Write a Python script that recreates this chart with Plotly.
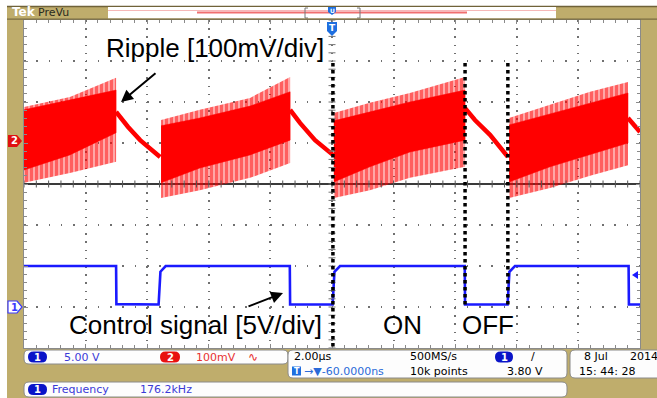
import plotly.graph_objects as go

W, H = 657, 398

# Scope settings
T_DIV = 2.0          # us / div, 10 divisions
CH1_VDIV = 5.0       # V / div (control signal)
CH2_VDIV = 100.0     # mV / div (ripple)
CH1_POS = -3.0       # channel ground markers, in divisions
CH2_POS = 1.05

# CH1: control signal (V) vs time (us)
ctrl_t = [-10.0, -7.01, -7.00, -5.63, -5.57, -5.40, -1.37, -1.36, 0.02, 0.08, 0.26,
          4.31, 4.32, 5.70, 5.76, 5.94, 9.63, 9.64, 10.0]
ctrl_v = [5.0, 5.0, 0.35, 0.3, 4.3, 5.0, 5.0, 0.3, 0.3, 4.3, 5.0,
          5.0, 0.3, 0.3, 4.3, 5.0, 5.0, 0.3, 0.3]

# CH2: ripple during each switching burst (envelope knots, mV)
burst_t = [[-10.0, -8.51, -7.01],
           [-5.55, -4.29, -2.66, -1.36],
           [0.06, 1.23, 2.53, 4.32],
           [5.75, 7.08, 8.38, 9.61]]
burst_peak = [[83, 107, 154], [51, 76, 105, 156], [68, 93, 117, 156], [56, 88, 120, 144]]
burst_core_hi = [[76, 100, 124], [37, 56, 85, 120], [49, 71, 95, 124], [39, 66, 93, 117]]
burst_core_lo = [[-71, -34, 20], [-102, -66, -34, 2], [-100, -63, -27, 2], [-100, -63, -34, -5]]
burst_trough = [[-102, -78, -51], [-139, -120, -90, -54], [-139, -120, -90, -63], [-139, -115, -85, -59]]

# CH2: ripple while the converter is off (discharge ramps, mV)
ramp_t = [[-7.01, -6.62, -6.23, -5.58], [-1.36, -1.04, -0.55, 0.03],
          [4.32, 4.64, 5.13, 5.71], [9.61, 10.0]]
ramp_mv = [[71, 34, 2, -39], [76, 44, 2, -34], [80, 51, 15, -39], [56, 22]]

RED = "#ff0000"
BLUE = "#1a1aff"
TAN = "#bfad6c"

# plot area in pixels
PX0, PX1, PY0, PY1 = 24, 640, 20, 348


def fx(x):
    return x / W


def fy(y):
    return 1 - y / H


def ch2(vals):
    return [v / CH2_VDIV + CH2_POS for v in vals]


def ch1(vals):
    return [v / CH1_VDIV + CH1_POS for v in vals]


def rrect(x0, y0, x1, y1, r):
    p = [
        f"M{fx(x0 + r)},{fy(y0)}", f"L{fx(x1 - r)},{fy(y0)}",
        f"Q{fx(x1)},{fy(y0)} {fx(x1)},{fy(y0 + r)}", f"L{fx(x1)},{fy(y1 - r)}",
        f"Q{fx(x1)},{fy(y1)} {fx(x1 - r)},{fy(y1)}", f"L{fx(x0 + r)},{fy(y1)}",
        f"Q{fx(x0)},{fy(y1)} {fx(x0)},{fy(y1 - r)}", f"L{fx(x0)},{fy(y0 + r)}",
        f"Q{fx(x0)},{fy(y0)} {fx(x0 + r)},{fy(y0)}", "Z",
    ]
    return " ".join(p)


def poly(pts):
    return "M" + " L".join(f"{fx(a)},{fy(b)}" for a, b in pts) + " Z"


fig = go.Figure()

# switching bursts: spiky outer envelope + dense core
for t, pk, chi, clo, tr in zip(burst_t, burst_peak, burst_core_hi, burst_core_lo, burst_trough):
    fig.add_trace(go.Scatter(
        x=t + t[::-1], y=ch2(pk) + ch2(tr)[::-1], mode="lines", fill="toself",
        line=dict(width=0, color=RED), fillcolor="rgba(255,0,0,0.25)",
        fillpattern=dict(shape="|", fgcolor=RED, fillmode="overlay",
                         size=5, solidity=0.7),
        hoverinfo="skip", showlegend=False))
    fig.add_trace(go.Scatter(
        x=t + t[::-1], y=ch2(chi) + ch2(clo)[::-1], mode="lines", fill="toself",
        line=dict(width=0.5, color=RED), fillcolor=RED,
        hoverinfo="skip", showlegend=False))

for t, v in zip(ramp_t, ramp_mv):
    fig.add_trace(go.Scatter(x=t, y=ch2(v), mode="lines",
                             line=dict(color=RED, width=4.5),
                             hoverinfo="skip", showlegend=False))

fig.add_trace(go.Scatter(x=ctrl_t, y=ch1(ctrl_v), mode="lines",
                         line=dict(color=BLUE, width=2.6),
                         hoverinfo="skip", showlegend=False))

# graticule ticks on the centre lines
minor_x = [-10 + 0.4 * i for i in range(51)]
minor_y = [-4 + 0.2 * i for i in range(41)]
fig.add_trace(go.Scatter(x=minor_x, y=[0] * len(minor_x), mode="markers",
                         marker=dict(symbol="line-ns", size=5, line=dict(width=1, color="#555")),
                         hoverinfo="skip", showlegend=False))
fig.add_trace(go.Scatter(x=[0] * len(minor_y), y=minor_y, mode="markers",
                         marker=dict(symbol="line-ew", size=5, line=dict(width=1, color="#777")),
                         hoverinfo="skip", showlegend=False))

shapes = []
# ON / OFF boundaries
for x0, y0, y1 in [(0.03, 2.95, -3.98), (4.32, 2.95, -2.95), (5.71, 2.95, -2.95)]:
    shapes.append(dict(type="line", xref="x", yref="y", x0=x0, x1=x0, y0=y0, y1=y1,
                       line=dict(color="black", width=3.5, dash="dot")))

# instrument frame
shapes += [
    dict(type="rect", xref="paper", yref="paper", x0=0, x1=1, y0=fy(6), y1=1,
         fillcolor="white", line=dict(width=0), layer="below"),
    dict(type="rect", xref="paper", yref="paper", x0=0, x1=fx(7), y0=0, y1=1,
         fillcolor="white", line=dict(width=0), layer="below"),
    dict(type="line", xref="paper", yref="paper", x0=fx(7), x1=1, y0=fy(6.5), y1=fy(6.5),
         line=dict(color="#6f6238", width=1.5)),
    dict(type="rect", xref="paper", yref="paper", x0=fx(108), x1=fx(556), y0=fy(18.5), y1=fy(7),
         fillcolor="white", line=dict(width=0)),
    dict(type="line", xref="paper", yref="paper", x0=fx(197), x1=fx(467), y0=fy(12.5), y1=fy(12.5),
         line=dict(color="#f07070", width=2)),
    dict(type="line", xref="paper", yref="paper", x0=fx(108), x1=fx(556), y0=fy(10.5), y1=fy(10.5),
         line=dict(color="#f6b8b8", width=1)),
    dict(type="path", xref="paper", yref="paper",
         path=f"M{fx(308)},{fy(8)} L{fx(305)},{fy(8)} L{fx(305)},{fy(18)} L{fx(308)},{fy(18)} "
              f"M{fx(357)},{fy(8)} L{fx(360)},{fy(8)} L{fx(360)},{fy(18)} L{fx(357)},{fy(18)}",
         line=dict(color="#777", width=1)),
    dict(type="line", xref="paper", yref="paper", x0=fx(7), x1=1, y0=fy(19.2), y1=fy(19.2),
         line=dict(color="#7a6c40", width=1.2)),
    # trigger position markers
    dict(type="path", xref="paper", yref="paper",
         path=poly([(328, 7), (336, 7), (336, 12), (332, 15), (328, 12)]),
         fillcolor="#1e6fe0", line=dict(width=0)),
    dict(type="path", xref="paper", yref="paper",
         path=poly([(327, 22), (337, 22), (337, 31), (332, 36), (327, 31)]),
         fillcolor="#1e6fe0", line=dict(width=0)),
    # channel ground markers
    dict(type="path", xref="paper", yref="paper",
         path=poly([(8, 135), (17, 135), (22, 141), (17, 147), (8, 147)]),
         fillcolor="#e01010", line=dict(width=0)),
    dict(type="path", xref="paper", yref="paper",
         path=poly([(8, 301), (17, 301), (22, 307), (17, 313), (8, 313)]),
         fillcolor="white", line=dict(color="#3a3aff", width=1.2)),
    # trigger level marker
    dict(type="path", xref="paper", yref="paper",
         path=poly([(632, 275), (638, 271), (638, 279)]),
         fillcolor=BLUE, line=dict(width=0)),
    # readout boxes
    dict(type="path", xref="paper", yref="paper", path=rrect(24, 350, 288, 364, 5),
         fillcolor="#fdfdfd", line=dict(color="#8a8a8a", width=1)),
    dict(type="path", xref="paper", yref="paper", path=rrect(288, 350, 567, 378, 5),
         fillcolor="#fdfdfd", line=dict(color="#8a8a8a", width=1)),
    dict(type="path", xref="paper", yref="paper", path=rrect(570, 350, 665, 378, 5),
         fillcolor="#fdfdfd", line=dict(color="#8a8a8a", width=1)),
    dict(type="path", xref="paper", yref="paper", path=rrect(24, 382, 567, 397, 5),
         fillcolor="#fdfdfd", line=dict(color="#8a8a8a", width=1)),
    # channel pills in readouts
    dict(type="path", xref="paper", yref="paper", path=rrect(28, 351.5, 47, 362.5, 5.5),
         fillcolor="#0a14c8", line=dict(width=0)),
    dict(type="path", xref="paper", yref="paper", path=rrect(160, 351.5, 180, 362.5, 5.5),
         fillcolor="#e81010", line=dict(width=0)),
    dict(type="path", xref="paper", yref="paper", path=rrect(495, 351.5, 513, 362.5, 5.5),
         fillcolor="#0a14c8", line=dict(width=0)),
    dict(type="path", xref="paper", yref="paper", path=rrect(28, 384, 47, 395, 5.5),
         fillcolor="#0a14c8", line=dict(width=0)),
    dict(type="rect", xref="paper", yref="paper", x0=fx(292), x1=fx(301), y0=fy(375.5), y1=fy(366.5),
         fillcolor="#1e6fe0", line=dict(width=0)),
]

UI = "DejaVu Sans"
ann = []


def txt(s, x, y, size=11, color="black", anchor="left", family=UI, bold=False):
    ann.append(dict(text=f"<b>{s}</b>" if bold else s, x=fx(x), y=fy(y),
                    xref="paper", yref="paper", xanchor=anchor, yanchor="middle",
                    showarrow=False, font=dict(family=family, size=size, color=color)))


AF = "Liberation Sans, Arial, sans-serif"
txt("Ripple [100mV/div]", 104, 48, size=26, family=AF)
txt("Control signal [5V/div]", 67, 325, size=26, family=AF)
txt("ON", 381, 325, size=26, family=AF)
txt("OFF", 460, 325, size=26, family=AF)

txt("Tek", 10, 12.5, size=12, color="white", bold=True)
txt("PreVu", 36, 12.5, size=11, color="#2a2a20")
txt("U", 332, 10, size=6, color="white", anchor="center", bold=True)
txt("T", 332, 28, size=9, color="white", anchor="center", bold=True)
txt("2", 14, 141, size=10, color="white", anchor="center", bold=True)
txt("1", 14, 307, size=10, color="#3a3aff", anchor="center", bold=True)

txt("1", 37.5, 357, size=10, color="white", anchor="center", bold=True)
txt("5.00 V", 62, 357, size=11, color="#3a3ad8")
txt("2", 170, 357, size=10, color="white", anchor="center", bold=True)
txt("100mV", 194, 357, size=11, color="#e83030")
txt("∿", 246, 357, size=12, color="#e83030")
txt("2.00µs", 292, 356, size=11)
txt("500MS/s", 408, 356, size=11)
txt("1", 504, 357, size=10, color="white", anchor="center", bold=True)
txt("/", 529, 356, size=11)
txt("T", 296.5, 371, size=8, color="white", anchor="center", bold=True)
txt("→▼-60.0000ns", 302, 371, size=11, color="#2a6ad8")
txt("10k points", 408, 371, size=11)
txt("3.80 V", 505, 371, size=11)
txt("8 Jul", 582, 356, size=11)
txt("2014", 628, 356, size=11)
txt("15: 44: 28", 577, 371, size=11)
txt("1", 37.5, 389.5, size=10, color="white", anchor="center", bold=True)
txt("Frequency", 50, 389.5, size=11, color="#3a3ad8")
txt("176.2kHz", 138, 389.5, size=11, color="#3a3ad8")

# annotation arrows
ann.append(dict(x=fx(121), y=fy(102), ax=36, ay=-30, xref="paper", yref="paper",
                showarrow=True, arrowhead=2, arrowsize=1.2, arrowwidth=2, arrowcolor="black", text=""))
ann.append(dict(x=fx(283), y=fy(293), ax=-36, ay=14, xref="paper", yref="paper",
                showarrow=True, arrowhead=2, arrowsize=1.2, arrowwidth=2, arrowcolor="black", text=""))

fig.update_layout(
    width=W, height=H, margin=dict(l=0, r=0, t=0, b=0),
    paper_bgcolor=TAN, plot_bgcolor="white",
    shapes=shapes, annotations=ann, showlegend=False,
    xaxis=dict(domain=[fx(PX0), fx(PX1)], range=[-10, 10], dtick=T_DIV, tick0=-10,
               showgrid=True, gridcolor="#707070", gridwidth=1.5, griddash="1.5px,6.7px",
               zeroline=False, showticklabels=False,
               showline=True, linecolor="#8a8a8a", linewidth=1, mirror="ticks",
               ticks="inside", ticklen=4, tickcolor="#8a8a8a",
               minor=dict(dtick=0.4, ticks="inside", ticklen=3, tickcolor="#8a8a8a", showgrid=False),
               fixedrange=True),
    yaxis=dict(domain=[fy(PY1), fy(PY0)], range=[-4, 4], dtick=1, tick0=-4,
               showgrid=True, gridcolor="#707070", gridwidth=1.5, griddash="1.5px,10.8px",
               zeroline=True, zerolinecolor="#3a3a3a", zerolinewidth=1.5, showticklabels=False,
               showline=True, linecolor="#8a8a8a", linewidth=1, mirror="ticks",
               ticks="inside", ticklen=4, tickcolor="#8a8a8a",
               minor=dict(dtick=0.2, ticks="inside", ticklen=3, tickcolor="#8a8a8a", showgrid=False),
               fixedrange=True),
)

fig.write_html("out.html")
